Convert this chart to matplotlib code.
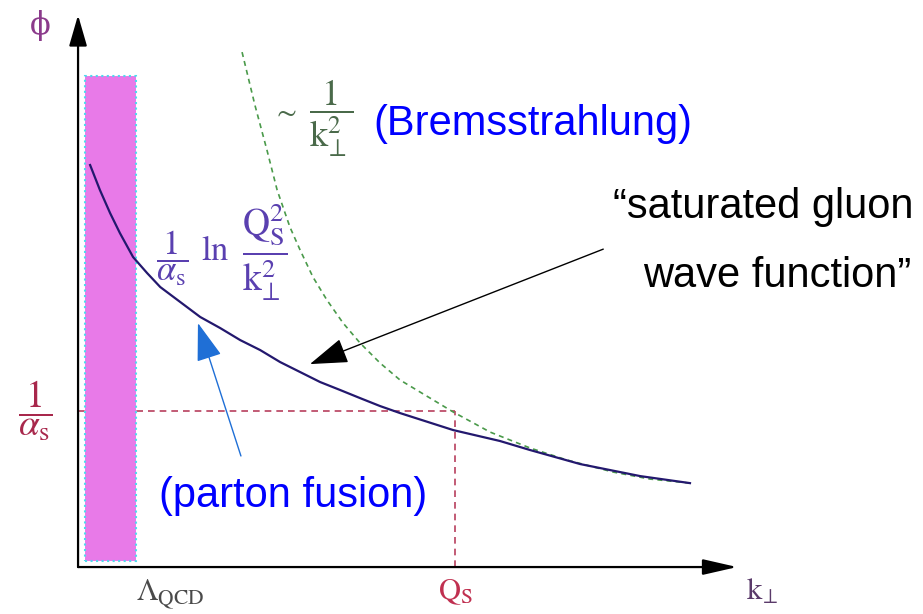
import numpy as np
import matplotlib
matplotlib.use("Agg")
import matplotlib.pyplot as plt
from matplotlib.patches import Rectangle

plt.rcParams["mathtext.fontset"] = "stix"
plt.rcParams["font.family"] = ["Liberation Sans", "DejaVu Sans"]

# units: k in Q_S, phi in 1/alpha_s
Q_S = 1.0
INV_ALPHA = 1.0
LAMBDA_BAND = (0.019, 0.154)
BAND_TOP = 3.147

# saturated gluon wave function (solid)
k_sat = [0.032, 0.058, 0.085, 0.111, 0.146, 0.183, 0.218, 0.271, 0.324,
         0.377, 0.430, 0.483, 0.536, 0.589, 0.642, 0.695, 0.748, 0.801,
         0.854, 0.995, 1.119, 1.199, 1.332, 1.491, 1.623]
phi_sat = [2.577, 2.417, 2.269, 2.141, 1.987, 1.885, 1.795, 1.699, 1.603,
           1.532, 1.455, 1.391, 1.314, 1.250, 1.186, 1.135, 1.083, 1.032,
           0.987, 0.878, 0.808, 0.750, 0.660, 0.583, 0.538]

# bremsstrahlung ~ 1/k^2 (dashed)
k_brems = [0.435, 0.469, 0.501, 0.528, 0.562, 0.589, 0.623, 0.660, 0.703,
           0.748, 0.801, 0.854, 0.920, 0.995, 1.093, 1.199, 1.297, 1.419,
           1.517, 1.623]
phi_brems = [3.301, 2.962, 2.673, 2.417, 2.179, 2.032, 1.859, 1.712, 1.564,
             1.436, 1.308, 1.199, 1.103, 0.994, 0.865, 0.763, 0.686, 0.609,
             0.564, 0.538]

fig = plt.figure(figsize=(9.23, 6.14), dpi=100)
ax = fig.add_axes([0, 0, 1, 1])
ax.set_xlim(-0.207, 2.241)
ax.set_ylim(-0.301, 3.635)
ax.axis("off")

# axes with arrow heads
ax.annotate("", xy=(0, 3.538), xytext=(0, 0),
            arrowprops=dict(arrowstyle="-|>,head_length=1.9,head_width=0.55",
                            mutation_scale=10, color="black", lw=1.6,
                            shrinkA=0, shrinkB=0))
ax.annotate("", xy=(1.748, 0), xytext=(0, 0),
            arrowprops=dict(arrowstyle="-|>,head_length=2.1,head_width=0.48",
                            mutation_scale=10, color="black", lw=1.6,
                            shrinkA=0, shrinkB=0))

# Q_S / 1/alpha_s guide lines
ax.plot([0, Q_S], [INV_ALPHA, INV_ALPHA], color="#b8405e", lw=1.2,
        dashes=(4, 3), zorder=1)
ax.plot([Q_S, Q_S], [0, INV_ALPHA], color="#b8405e", lw=1.2,
        dashes=(4, 3), zorder=1)

# non-perturbative band
ax.add_patch(Rectangle((LAMBDA_BAND[0], 0.038), LAMBDA_BAND[1] - LAMBDA_BAND[0],
                       BAND_TOP - 0.038, facecolor="#e87ae8",
                       edgecolor="#4fd8ee", lw=1.5, ls=":", zorder=2))

ax.plot(k_brems, phi_brems, color="#4a9a4a", lw=1.2, dashes=(3, 2.5), zorder=3)
ax.plot(k_sat, phi_sat, color="#23186e", lw=1.6, zorder=4)

# axis labels
ax.text(-0.101, 3.47, "\u03d5", fontsize=22, color="#8b3a8b",
        family=["DejaVu Serif"], ha="center", va="center")
ax.text(-0.114, INV_ALPHA, r"$\dfrac{1}{\alpha_{\mathrm{s}}}$", fontsize=27,
        color="#a8284c", ha="center", va="center")
ax.text(0.244, -0.175, r"$\Lambda_{\mathrm{QCD}}$", fontsize=22,
        color="#4a4a4a", ha="center", va="center")
ax.text(Q_S, -0.16, r"$\mathrm{Q}_{\mathrm{S}}$", fontsize=22,
        color="#c03050", ha="center", va="center")
ax.text(1.814, -0.16, r"$\mathrm{k}_{\!\perp}$", fontsize=22,
        color="#5a3a6a", ha="center", va="center")

# 1/alpha_s ln(Q_S^2/k^2)
sat_col = "#5a40b0"
ax.text(0.249, 1.981, r"$\dfrac{1}{\alpha_{\mathrm{s}}}$", fontsize=25,
        color=sat_col, ha="center", va="center")
ax.text(0.363, 1.968, r"$\mathrm{ln}$", fontsize=25, color=sat_col,
        ha="center", va="baseline")
ax.text(0.495, 2.019,
        r"$\dfrac{\mathrm{Q}_{\mathrm{S}}^{2}}{\mathrm{k}_{\!\perp}^{2}}$",
        fontsize=27, color=sat_col, ha="center", va="center")

# ~ 1/k^2
ax.text(0.546, 2.917, r"$\sim$", fontsize=21, color="#4a6a4a",
        ha="center", va="center")
ax.text(0.671, 2.878, r"$\dfrac{1}{\mathrm{k}_{\!\perp}^{2}}$", fontsize=26,
        color="#4a6a4a", ha="center", va="center")

ax.text(0.782, 2.769, "(Bremsstrahlung)", fontsize=30, color="#0000ff",
        ha="left", va="baseline")
ax.text(0.215, 0.385, "(parton fusion)", fontsize=30, color="#0000ff",
        ha="left", va="baseline")
ax.text(1.419, 2.237, "\u201csaturated gluon", fontsize=30, color="black",
        ha="left", va="baseline")
ax.text(1.499, 1.795, "wave function\u201d", fontsize=30, color="black",
        ha="left", va="baseline")

# pointer arrows
ax.annotate("", xy=(0.615, 1.301), xytext=(1.393, 2.038),
            arrowprops=dict(arrowstyle="-|>,head_length=2.4,head_width=0.8",
                            mutation_scale=10, color="black", lw=1.0,
                            shrinkA=0, shrinkB=0))
ax.annotate("", xy=(0.318, 1.564), xytext=(0.432, 0.712),
            arrowprops=dict(arrowstyle="-|>,head_length=2.4,head_width=0.8",
                            mutation_scale=10, color="#1f6fd6", lw=1.0,
                            shrinkA=0, shrinkB=0))

fig.savefig("out.png", dpi=100)
